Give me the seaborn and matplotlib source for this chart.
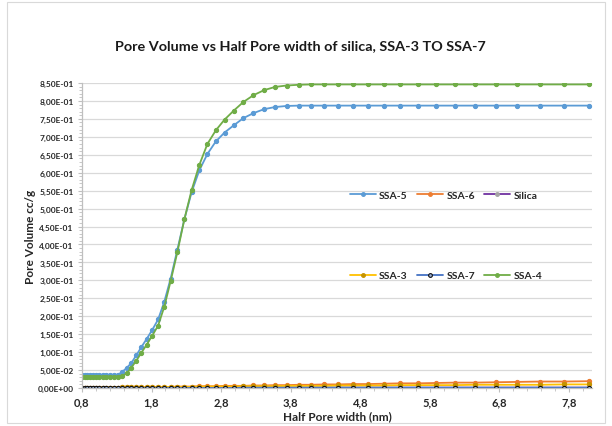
import matplotlib
matplotlib.use("Agg")
import matplotlib.pyplot as plt
from matplotlib.ticker import FixedLocator, MultipleLocator, FuncFormatter
from matplotlib.patches import Rectangle
import seaborn as sns
import pandas as pd

# Half pore width (nm)
half_width = [0.800, 0.837, 0.876, 0.917, 0.959, 1.004, 1.050, 1.099, 1.150, 1.203,
              1.259, 1.318, 1.379, 1.443, 1.510, 1.580, 1.653, 1.730, 1.810, 1.894,
              1.982, 2.074, 2.170, 2.271, 2.376, 2.487, 2.602, 2.723, 2.849, 2.981,
              3.119, 3.264, 3.416, 3.574, 3.740, 3.914, 4.095, 4.285, 4.484, 4.692,
              4.910, 5.138, 5.376, 5.625, 5.886, 6.160, 6.445, 6.744, 7.057, 7.385,
              7.727, 8.086]

# Pore volume (cc/g) per sample
ssa5 = [0.037, 0.037, 0.037, 0.037, 0.037, 0.037, 0.037, 0.037, 0.037, 0.037,
        0.037, 0.037, 0.045, 0.056, 0.070, 0.091, 0.114, 0.137, 0.162, 0.191,
        0.240, 0.305, 0.385, 0.470, 0.546, 0.607, 0.652, 0.687, 0.712, 0.732,
        0.752, 0.766, 0.777, 0.783, 0.786, 0.787, 0.787, 0.787, 0.787, 0.787,
        0.787, 0.787, 0.787, 0.787, 0.787, 0.787, 0.787, 0.787, 0.787, 0.787,
        0.787, 0.787]
ssa6 = [0.000, 0.000, 0.000, 0.000, 0.000, 0.001, 0.001, 0.001, 0.001, 0.001,
        0.001, 0.001, 0.002, 0.002, 0.002, 0.002, 0.002, 0.002, 0.003, 0.003,
        0.003, 0.003, 0.004, 0.004, 0.004, 0.005, 0.005, 0.005, 0.006, 0.006,
        0.006, 0.007, 0.007, 0.008, 0.008, 0.009, 0.009, 0.010, 0.010, 0.011,
        0.011, 0.012, 0.013, 0.013, 0.014, 0.015, 0.015, 0.016, 0.017, 0.018,
        0.018, 0.019]
silica = [0.000, 0.000, 0.000, 0.000, 0.000, 0.000, 0.000, 0.000, 0.000, 0.000,
          0.000, 0.000, 0.000, 0.000, 0.000, 0.000, 0.000, 0.000, 0.000, 0.000,
          0.000, 0.000, 0.000, 0.000, 0.000, 0.000, 0.000, 0.000, 0.000, 0.000,
          0.001, 0.001, 0.001, 0.001, 0.001, 0.001, 0.001, 0.001, 0.001, 0.001,
          0.001, 0.001, 0.001, 0.001, 0.001, 0.001, 0.001, 0.001, 0.001, 0.001,
          0.001, 0.001]
ssa3 = [0.000, 0.000, 0.000, 0.000, 0.000, 0.001, 0.001, 0.001, 0.001, 0.001,
        0.001, 0.001, 0.002, 0.002, 0.002, 0.002, 0.002, 0.002, 0.002, 0.003,
        0.003, 0.003, 0.003, 0.003, 0.003, 0.004, 0.004, 0.004, 0.004, 0.004,
        0.005, 0.005, 0.005, 0.005, 0.006, 0.006, 0.006, 0.006, 0.007, 0.007,
        0.007, 0.007, 0.008, 0.008, 0.008, 0.008, 0.009, 0.009, 0.009, 0.009,
        0.010, 0.010]
ssa7 = [0.000, 0.000, 0.000, 0.000, 0.000, 0.000, 0.000, 0.000, 0.000, 0.000,
        0.000, 0.000, 0.000, 0.000, 0.000, 0.000, 0.000, 0.000, 0.000, 0.000,
        0.000, 0.000, 0.000, 0.000, 0.000, 0.000, 0.000, 0.000, 0.000, 0.000,
        0.001, 0.001, 0.001, 0.001, 0.001, 0.001, 0.001, 0.001, 0.001, 0.001,
        0.001, 0.001, 0.001, 0.001, 0.001, 0.001, 0.001, 0.001, 0.001, 0.001,
        0.001, 0.001]
ssa4 = [0.032, 0.032, 0.032, 0.032, 0.032, 0.032, 0.032, 0.032, 0.032, 0.032,
        0.032, 0.032, 0.034, 0.041, 0.057, 0.076, 0.098, 0.121, 0.146, 0.174,
        0.226, 0.298, 0.378, 0.470, 0.552, 0.622, 0.680, 0.718, 0.748, 0.773,
        0.797, 0.816, 0.830, 0.839, 0.843, 0.845, 0.846, 0.846, 0.846, 0.846,
        0.846, 0.846, 0.846, 0.846, 0.846, 0.846, 0.846, 0.846, 0.846, 0.846,
        0.846, 0.846]

x_ticks = [0.8, 1.8, 2.8, 3.8, 4.8, 5.8, 6.8, 7.8]
x_tick_labels = ["0,8", "1,8", "2,8", "3,8", "4,8", "5,8", "6,8", "7,8"]

series = [
    # name, values, line colour, marker face, marker edge
    ("SSA-5", ssa5, "#5B9BD5", "#5B9BD5", "#5B9BD5"),
    ("SSA-6", ssa6, "#ED7D31", "#ED7D31", "#ED7D31"),
    ("Silica", silica, "#7030A0", "#A5A5A5", "#A5A5A5"),
    ("SSA-3", ssa3, "#FFC000", "#C59300", "#C59300"),
    ("SSA-7", ssa7, "#4472C4", "#9DB3DA", "#111111"),
    ("SSA-4", ssa4, "#70AD47", "#70AD47", "#70AD47"),
]

sns.set_theme(style="white")
plt.rcParams["font.family"] = ["Lato", "DejaVu Sans"]
plt.rcParams["font.weight"] = "bold"

fig = plt.figure(figsize=(6.12, 4.27), dpi=100)
ax = fig.add_axes([82 / 612, 38 / 427, 510 / 612, 305 / 427])

for name, vals, lc, mfc, mec in series:
    df = pd.DataFrame({"x": half_width, "y": vals})
    sns.lineplot(data=df, x="x", y="y", ax=ax, color=lc, linewidth=1.3,
                 marker="o", markersize=3.0, markerfacecolor=mfc,
                 markeredgecolor=mec, markeredgewidth=0.8,
                 estimator=None, sort=False, label=name)

ax.set_xlim(0.8, 8.13)
ax.set_ylim(0, 0.85)
ax.xaxis.set_major_locator(FixedLocator(x_ticks))
ax.set_xticklabels(x_tick_labels)
ax.xaxis.set_minor_locator(MultipleLocator(0.2))
ax.yaxis.set_major_locator(MultipleLocator(0.05))
ax.yaxis.set_minor_locator(MultipleLocator(0.01))
ax.yaxis.set_major_formatter(FuncFormatter(lambda v, p: f"{v:.2E}".replace(".", ",")))

ax.grid(axis="y", color="#D9D9D9", linewidth=0.9)
ax.grid(axis="x", visible=False)
ax.set_axisbelow(True)

for side in ["top", "right"]:
    ax.spines[side].set_visible(False)
for side in ["left", "bottom"]:
    ax.spines[side].set_color("#BFBFBF")
    ax.spines[side].set_linewidth(0.9)

ax.tick_params(axis="both", which="major", length=3, color="#BFBFBF", width=0.8,
               bottom=True, left=True)
ax.tick_params(axis="both", which="minor", length=2, color="#BFBFBF", width=0.6,
               bottom=True, left=True)
ax.tick_params(axis="y", which="major", labelsize=6.0, pad=3)
ax.tick_params(axis="x", which="major", labelsize=8, pad=3)
for lab in ax.get_yticklabels() + ax.get_xticklabels():
    lab.set_fontweight("bold")
    lab.set_color("#262626")

ax.set_xlabel("Half Pore width (nm)", fontsize=8.5, fontweight="bold",
              color="#262626", labelpad=2)
ax.set_ylabel("Pore Volume cc/g", fontsize=8.5, fontweight="bold",
              color="#262626", labelpad=1)

fig.suptitle("Pore Volume vs Half Pore width of silica, SSA-3 TO SSA-7",
             x=0.49, y=0.905, fontsize=10.4, fontweight="bold", color="#1a1a1a")

# legend laid out row by row: SSA-5 SSA-6 Silica / SSA-3 SSA-7 SSA-4
handles, labels = ax.get_legend_handles_labels()
order = [0, 3, 1, 4, 2, 5]
leg = ax.legend([handles[i] for i in order], [labels[i] for i in order],
                loc="center", bbox_to_anchor=(0.714, 0.50), ncol=3,
                frameon=False, fontsize=7.5, handlelength=2.5,
                columnspacing=0.9, labelspacing=6.8, handletextpad=0.3,
                markerscale=0.9)
for t in leg.get_texts():
    t.set_fontweight("bold")
    t.set_color("#262626")

# chart area border
fig.patches.append(Rectangle((7 / 612, 3 / 427), 598 / 612, 421 / 427,
                             transform=fig.transFigure, fill=False,
                             edgecolor="#D9D9D9", linewidth=0.8))

fig.savefig("out.png", dpi=100)
